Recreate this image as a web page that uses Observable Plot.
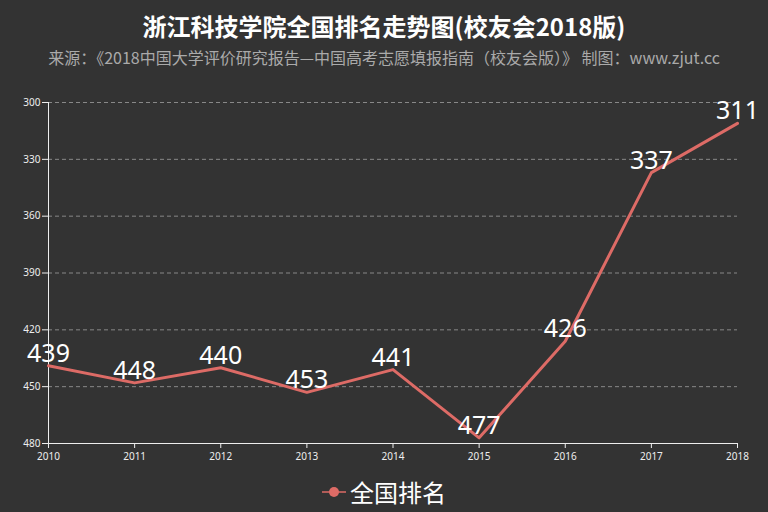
<!DOCTYPE html>
<html><head><meta charset="utf-8">
<script src="https://cdn.jsdelivr.net/npm/d3@7"></script>
<script src="https://cdn.jsdelivr.net/npm/@observablehq/plot@0.6"></script>
<style>
body{margin:0;background:#333;}
#wrap{position:relative;width:768px;height:512px;background:#333;font-family:"Noto Sans CJK SC","Noto Sans",sans-serif;overflow:hidden;}
#title{position:absolute;top:12px;left:0;width:768px;text-align:center;color:#fff;font-size:24px;line-height:28px;font-weight:bold;}
#subtitle{position:absolute;top:47px;left:0;width:768px;text-align:center;color:#aaa;font-size:16px;line-height:20px;}
#legend{position:absolute;top:477px;left:0;width:768px;display:flex;justify-content:center;align-items:center;color:#fff;font-size:24px;line-height:30px;}
#legend svg{margin-right:4px;}
#chart{position:absolute;top:0;left:0;}
</style></head>
<body>
<div id="wrap">
<div id="chart"></div>
<div id="title"></div>
<div id="subtitle"></div>
<div id="legend"></div>
</div>
<script>
const titleText = "浙江科技学院全国排名走势图(校友会2018版)";
const subtitleText = "来源：《2018中国大学评价研究报告—中国高考志愿填报指南（校友会版）》 制图：www.zjut.cc";
const seriesName = "全国排名";
const years = [2010, 2011, 2012, 2013, 2014, 2015, 2016, 2017, 2018];
const ranks = [439, 448, 440, 453, 441, 477, 426, 337, 311];
const yTicks = [300, 330, 360, 390, 420, 450, 480];
const lineColor = "#dd6b66";

const data = years.map((y, i) => ({year: y, rank: ranks[i]}));

document.getElementById("title").textContent = titleText;
document.getElementById("subtitle").textContent = subtitleText;
document.getElementById("legend").innerHTML =
  `<svg width="24" height="12"><line x1="0" y1="6" x2="24" y2="6" stroke="${lineColor}" stroke-width="1.5"/><circle cx="12" cy="6" r="5" fill="${lineColor}"/></svg><span>${seriesName}</span>`;

const chart = Plot.plot({
  width: 768, height: 512,
  marginTop: 102, marginBottom: 69, marginLeft: 48, marginRight: 31,
  style: {background: "transparent", color: "#eee", fontSize: "10px", fontFamily: "'Noto Sans', sans-serif"},
  x: {domain: [2010, 2018], label: null},
  y: {domain: [300, 480], reverse: true, label: null},
  marks: [
    Plot.gridY(yTicks.slice(0, -1), {stroke: "#888", strokeOpacity: 1, strokeDasharray: "4,3"}),
    Plot.axisY(yTicks, {tickSize: 6, tickPadding: 2, stroke: "#eee", fill: "#eee", label: null}),
    Plot.axisX(years, {tickSize: 5, tickPadding: 4, tickFormat: "d", stroke: "#eee", fill: "#eee", label: null}),
    Plot.ruleX([2010], {stroke: "#eee"}),
    Plot.ruleY([480], {stroke: "#eee"}),
    Plot.line(data, {x: "year", y: "rank", stroke: lineColor, strokeWidth: 3}),
    Plot.text(data, {x: "year", y: "rank", text: d => String(d.rank), fill: "#fff", fontSize: 25, lineAnchor: "bottom", dy: -4, fontFamily: "'Noto Sans', sans-serif"})
  ]
});
document.getElementById("chart").appendChild(chart);
</script>
</body></html>
